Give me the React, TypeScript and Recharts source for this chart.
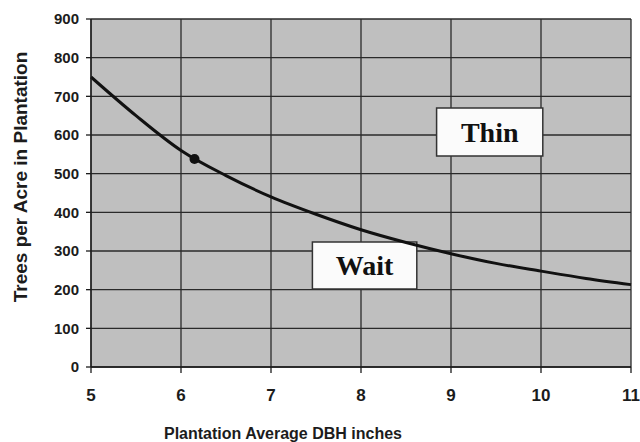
import React from 'react'
import {
  LineChart,
  Line,
  XAxis,
  YAxis,
  CartesianGrid,
  ReferenceArea,
  ReferenceDot,
  Label
} from 'recharts'

// curve (DBH inches -> trees per acre)
const dbh = [5, 5.5, 6, 6.5, 7, 7.5, 8, 8.5, 9, 9.5, 10, 10.5, 11]
const trees = [750, 650, 560, 495, 440, 395, 355, 322, 293, 268, 248, 229, 213]

const xTicks = [5, 6, 7, 8, 9, 10, 11]
const yTicks = [0, 100, 200, 300, 400, 500, 600, 700, 800, 900]

// marked point on the curve
const markX = 6.15
const markY = 538

// label boxes (x1, x2, y1, y2 in data units)
const thinBox = [8.84, 10.02, 546, 670]
const waitBox = [7.46, 8.62, 202, 323]

const data = dbh.map((d, i) => ({ dbh: d, trees: trees[i] }))

const ink = '#1c1c1c'
const sans = 'Arial, "Liberation Sans", sans-serif'
const serif = '"Liberation Serif", "Times New Roman", serif'

export default function App() {
  return (
    <div style={{ position: 'absolute', left: 0, top: 0, background: '#fff' }}>
      <LineChart
        width={640}
        height={442}
        data={data}
        margin={{ top: 19, right: 9, bottom: 30, left: 31 }}
      >
        <CartesianGrid
          stroke="#2a2a2a"
          strokeWidth={1.3}
          fill="#bfbfbf"
          fillOpacity={1}
        />
        <XAxis
          dataKey="dbh"
          type="number"
          domain={[5, 11]}
          ticks={xTicks}
          height={45}
          stroke={ink}
          strokeWidth={1.3}
          tickSize={6}
          tickMargin={16}
          tick={{ fill: ink, fontSize: 17, fontWeight: 'bold', fontFamily: sans }}
        />
        <YAxis
          type="number"
          domain={[0, 900]}
          ticks={yTicks}
          width={60}
          stroke={ink}
          strokeWidth={1.3}
          tickSize={5}
          tickMargin={7}
          tick={{ fill: ink, fontSize: 15, fontWeight: 'bold', fontFamily: sans }}
        />
        <Line
          dataKey="trees"
          type="monotone"
          stroke="#111"
          strokeWidth={3}
          dot={false}
          isAnimationActive={false}
        />
        <ReferenceDot x={markX} y={markY} r={5} fill="#111" stroke="none" />
        <ReferenceArea
          x1={thinBox[0]}
          x2={thinBox[1]}
          y1={thinBox[2]}
          y2={thinBox[3]}
          fill="#fbfbfb"
          fillOpacity={1}
          stroke="#333"
          strokeWidth={1.5}
        >
          <Label
            value="Thin"
            position="center"
            fill="#111"
            fontSize={28}
            fontWeight="bold"
            fontFamily={serif}
          />
        </ReferenceArea>
        <ReferenceArea
          x1={waitBox[0]}
          x2={waitBox[1]}
          y1={waitBox[2]}
          y2={waitBox[3]}
          fill="#fbfbfb"
          fillOpacity={1}
          stroke="#333"
          strokeWidth={1.5}
        >
          <Label
            value="Wait"
            position="center"
            fill="#111"
            fontSize={28}
            fontWeight="bold"
            fontFamily={serif}
          />
        </ReferenceArea>
        <text
          x={283}
          y={439}
          textAnchor="middle"
          fill={ink}
          fontSize={16}
          fontWeight="bold"
          fontFamily={sans}
        >
          Plantation Average DBH inches
        </text>
        <text
          x={27}
          y={177}
          transform="rotate(-90 27 177)"
          textAnchor="middle"
          fill={ink}
          fontSize={19}
          fontWeight="bold"
          fontFamily={sans}
        >
          Trees per Acre in Plantation
        </text>
      </LineChart>
    </div>
  )
}
